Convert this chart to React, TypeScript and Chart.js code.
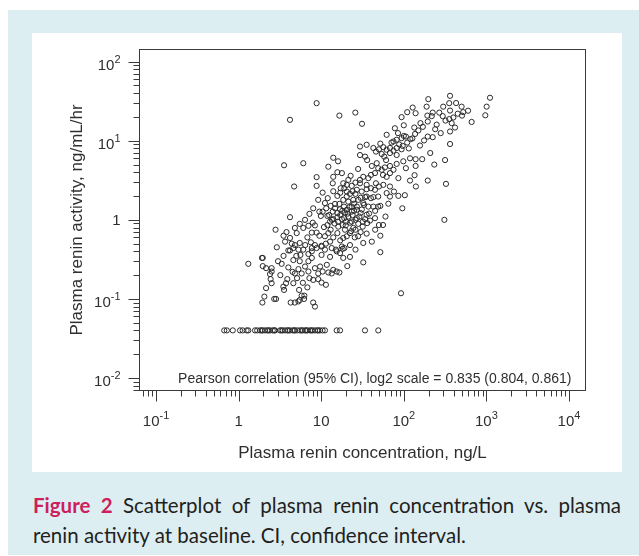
import React, { useEffect, useRef } from "react";
import { Chart, registerables } from "chart.js";
Chart.register(...registerables);

// ---- axis ranges (log scales) ----
const X_MIN = 0.0631;
const X_MAX = 15849;
const Y_MIN = 0.00695;
const Y_MAX = 142.6;

const xMajorTicks = [0.1, 1, 10, 100, 1000, 10000];
const xTickBase = ["10", "1", "10", "10", "10", "10"];
const xTickExp = ["-1", "", "", "2", "3", "4"];
const yMajorTicks = [0.01, 0.1, 1, 10, 100];
const yTickBase = ["10", "10", "1", "10", "10"];
const yTickExp = ["-2", "-1", "", "1", "2"];

const xTitle = "Plasma renin concentration, ng/L";
const yTitle = "Plasma renin activity, ng/mL/hr";
const annotation = "Pearson correlation (95% CI), log2 scale = 0.835 (0.804, 0.861)";

// ---- data: [concentration ng/L, activity ng/mL/hr] ----
const highGroup: [number, number][] = [
  [8.8, 29.9], [4.19, 18.4], [16.6, 20.8], [25.9, 22.7], [31.2, 16.4],
  [363, 37], [198, 33.6], [1106, 35], [1007, 27], [970, 21], [663, 17.3], [501, 27], [524, 23],
  [507, 20.8], [417, 14.7], [355, 29.9], [363, 24.1], [355, 18.8], [380, 16.7], [398, 19.7],
  [363, 13.1], [363, 9.1], [300, 27], [269, 22.7], [296, 20.5], [224, 22.7], [218, 20.5],
  [195, 17.5], [193, 20.8], [189, 27], [128, 26.3], [110, 23], [139, 22.3], [94, 19.9],
  [159, 16.7], [134, 14.7], [100, 15.7], [78, 14.4],
  [224, 11.1], [195, 11.3], [176, 10.1], [157, 8.7], [209, 7.0], [316, 5.7], [234, 5.0],
  [167, 5.85], [139, 5.85], [119, 6.0], [139, 4.8], [106, 4.5], [324, 2.85], [195, 3.14],
  [140, 2.64], [119, 3.14], [135, 3.67], [86, 3.37], [62, 2.18], [86, 2.01], [103, 2.05],
  [96, 1.4], [310, 1.0],
  [150, 13.5], [170, 15], [250, 16], [280, 12.5], [240, 14], [450, 22], [320, 18], [430, 30],
  [600, 24],
];

const midGroup: [number, number][] = [
  [62, 11.9], [100, 11.5], [94, 10.8], [106, 11.3], [127, 10.7], [137, 12.2], [110, 9.5],
  [97, 8.6], [75, 7.5], [62, 7.7], [46, 7.3], [54, 6.8], [58, 6.3], [68, 7.0], [82, 6.6],
  [94, 7.8], [29.5, 6.6], [34, 6.3], [36, 5.7], [41, 4.8], [49, 4.5], [61, 5.7], [59, 4.6],
  [68, 3.9], [75, 4.3], [56, 3.7], [62, 3.5], [40, 3.7], [28, 4.4], [22.7, 3.6], [26, 2.96],
  [29.5, 3.2], [46, 2.9], [35.5, 2.44], [23.4, 2.69], [17.2, 2.51], [14, 6.1], [16, 5.5],
  [12.2, 4.7], [15.7, 4.0], [17.8, 3.9], [8.8, 3.47], [8.8, 2.69], [13.8, 2.9],
  [29.5, 8.45], [35.5, 8.9], [42.8, 8.1], [50, 7.8], [56.5, 8.3], [68, 8.1], [82, 8.1],
  [71, 9.5], [82, 10.3], [98.6, 5.5], [82, 5.1], [68, 4.8], [47, 5.2], [54, 4.3], [44.8, 3.9],
  [37.2, 3.37], [32.3, 3.5], [29.5, 2.9], [35.5, 2.77], [40, 2.51], [44.8, 2.4], [50, 2.64],
  [56.5, 2.77], [68, 2.64], [76, 2.28], [68, 1.97], [49, 1.97], [42.8, 1.94], [35.5, 1.97],
  [30.9, 2.28], [27, 2.4], [20.4, 2.28], [18.5, 2.9], [20.4, 2.77], [21.3, 3.2],
  [3.55, 4.9], [6.07, 5.2], [4.7, 2.64], [14, 3.5], [10.4, 2.21],
  [88, 9], [115, 8], [120, 10.5], [75, 9.8], [52, 9.2], [85, 12.5],
];

const coreGroup: [number, number][] = [
  [12, 1.88], [15.7, 2.01], [20.4, 1.97], [22.3, 2.13], [26, 2.13], [34, 1.94], [40, 1.88],
  [49, 1.47], [52, 1.5], [13, 1.5], [14.7, 1.4], [16.6, 1.59], [18.9, 1.47], [20.4, 1.34],
  [23.4, 1.27], [27, 1.34], [30, 1.22], [35.5, 1.16], [32, 0.95], [36, 0.91], [50, 0.86],
  [56, 0.86], [52, 0.63], [35.5, 0.67], [26, 0.75], [20.4, 0.62], [25.5, 0.6], [18.5, 0.59],
  [15.7, 0.68], [13, 0.75], [10.8, 0.81], [9.9, 1.12], [10.4, 1.27], [11.9, 1.12],
  [15.7, 1.08], [17.8, 1.02], [14, 1.02], [12.8, 0.95], [11.9, 0.86],
  [14.7, 1.59], [13.8, 1.27], [15.7, 1.22], [16.9, 1.36], [19.4, 1.24], [21.3, 1.1],
  [22.3, 0.92], [18.2, 0.86], [16.1, 0.82], [19.4, 0.75], [23.4, 0.95], [27, 1.05],
  [28.1, 0.89], [22.3, 0.68], [24.5, 0.79], [31.8, 0.82], [34, 1.02], [39, 0.98], [44.8, 1.05],
  [18.5, 1.79], [21.3, 1.7], [24.5, 1.79], [28.1, 1.79], [32.3, 1.63], [37.2, 1.47],
  [42.8, 1.47], [27, 1.47], [23.4, 1.47],
  [9.2, 1.79], [11.1, 1.63], [9.5, 1.27], [8.0, 1.4], [7.2, 1.19], [6.37, 1.0], [4.19, 1.08],
  [11.5, 1.4], [12.5, 1.15], [13.5, 1.0], [14.5, 0.9], [16, 0.95], [17, 1.15], [18, 1.3],
  [19, 1.05], [20, 0.95], [21, 1.2], [22, 1.45], [24, 1.15], [25, 1.3], [26, 1.0], [29, 1.1],
  [31, 1.35], [33, 1.55], [12.2, 0.68], [14, 0.6], [17, 0.55], [19.8, 0.85], [23, 0.72],
  [28, 0.62], [30, 0.7], [38, 1.2], [45, 1.3], [45, 0.75], [60, 1.1], [65, 1.6], [14, 2.3],
  [17, 2.2], [19, 2.5], [24, 2.3], [25, 1.6], [30, 1.9],
];

const lowGroup: [number, number][] = [
  [7.9, 0.92], [8.4, 0.85], [7.0, 0.84], [7.7, 0.69], [8.8, 0.69], [9.5, 0.63], [11.1, 0.62],
  [12.8, 0.53], [11.4, 0.5], [10.1, 0.47], [8.4, 0.48], [7.5, 0.52], [6.4, 0.48], [5.5, 0.51],
  [5.3, 0.42], [4.4, 0.5], [4.0, 0.41], [3.5, 0.63], [2.8, 0.75], [1.92, 0.33], [7.0, 0.37],
  [11.1, 0.42], [15.1, 0.42], [19.1, 0.44], [26, 0.42], [52, 0.39],
  [5.5, 0.89], [6.07, 0.79], [4.8, 0.79], [5.05, 0.68], [4.19, 0.59], [3.65, 0.53],
  [4.6, 0.44], [6.07, 0.42], [7.7, 0.4], [8.8, 0.44], [10.1, 0.36], [12.8, 0.34],
  [16.9, 0.38], [22.3, 0.34], [17.8, 0.46], [22.3, 0.48], [32.3, 0.51], [41, 0.53],
  [1.31, 0.278], [1.96, 0.33], [1.96, 0.26], [2.15, 0.245], [2.51, 0.245], [2.51, 0.222],
  [2.4, 0.206], [2.44, 0.178], [2.51, 0.158], [2.15, 0.137], [2.05, 0.107], [1.94, 0.09],
  [2.7, 0.1], [2.84, 0.1], [3.32, 0.278], [3.89, 0.178], [3.75, 0.158], [3.55, 0.13],
  [3.48, 0.143], [4.27, 0.09], [4.8, 0.09], [5.3, 0.093], [5.5, 0.097], [6.2, 0.1],
  [5.8, 0.11], [6.25, 0.11], [8.0, 0.09], [8.4, 0.08], [5.4, 0.13], [4.6, 0.158],
  [5.1, 0.183], [4.8, 0.21], [5.8, 0.21], [5.3, 0.238], [6.37, 0.257], [7.0, 0.222],
  [7.2, 0.183], [8.0, 0.174], [9.2, 0.178], [10.1, 0.161], [11.4, 0.151], [9.2, 0.21],
  [10.4, 0.222], [8.4, 0.245], [9.7, 0.257], [11.7, 0.27], [12.2, 0.216], [13.4, 0.21],
  [14, 0.233], [15.4, 0.222], [16.6, 0.216], [18.5, 0.33], [20.7, 0.26], [32.3, 0.29],
  [92.5, 0.118], [4.6, 0.31], [5.5, 0.3], [5.6, 0.36], [7.0, 0.3], [7.7, 0.33], [4.19, 0.41],
  [4.8, 0.48], [7.7, 0.44], [10.1, 0.46], [13.4, 0.44], [15.4, 0.4], [18.2, 0.43],
  [3, 0.3], [3.5, 0.35], [4, 0.25], [4.5, 0.22], [6, 0.16], [6.8, 0.14], [3.2, 0.2],
  [2.9, 0.45], [3.8, 0.7], [6.8, 0.6], [5, 0.35],
];

// values below the assay limit, all recorded at the same activity
const LOD_ACTIVITY = 0.04;
const belowLimitConc = [
  0.67, 0.72, 0.85, 1.04, 1.12, 1.25, 1.31, 1.58, 1.68, 1.82, 1.96, 2.09, 2.22, 2.4, 2.59,
  2.76, 3.17, 3.42, 3.65, 3.89, 4.19, 4.52, 4.82, 5.14, 5.53, 5.97, 6.37, 6.79, 7.31, 7.89,
  8.41, 8.97, 9.67, 10.4, 11.1, 15.4, 16.9, 33.9, 49.1, 1.9, 2.3, 2.7, 3.3, 4.0, 4.7, 5.8,
  6.6, 7.6, 9.2,
];

const allPoints = [...highGroup, ...midGroup, ...coreGroup, ...lowGroup].map(([x, y]) => ({ x, y }));
const limitPoints = belowLimitConc.map((x) => ({ x, y: LOD_ACTIVITY }));

const FONT = "'Liberation Sans', Arial, Helvetica, sans-serif";
const INK = "#2f2f2f";

function drawPow(ctx: CanvasRenderingContext2D, base: string, exp: string, x: number, y: number, align: "center" | "right") {
  ctx.font = `15px ${FONT}`;
  const wb = ctx.measureText(base).width;
  ctx.font = `11px ${FONT}`;
  const we = exp ? ctx.measureText(exp).width : 0;
  const total = wb + we;
  const sx = align === "center" ? x - total / 2 : x - total;
  ctx.textAlign = "left";
  ctx.textBaseline = "alphabetic";
  ctx.font = `15px ${FONT}`;
  ctx.fillText(base, sx, y);
  if (exp) {
    ctx.font = `11px ${FONT}`;
    ctx.fillText(exp, sx + wb, y - 7);
  }
}

const axesPlugin = {
  id: "rAxes",
  afterDatasetsDraw(chart: any) {
    const ctx: CanvasRenderingContext2D = chart.ctx;
    const { left, right, top, bottom } = chart.chartArea;
    const xs = chart.scales.x;
    const ys = chart.scales.y;
    ctx.save();
    ctx.strokeStyle = "#3a3a3a";
    ctx.fillStyle = INK;
    ctx.lineWidth = 1;
    ctx.strokeRect(left, top, right - left, bottom - top);

    // x ticks
    ctx.beginPath();
    for (let e = -2; e <= 4; e++) {
      for (let k = 1; k <= 9; k++) {
        const v = k * Math.pow(10, e);
        if (v < X_MIN || v > X_MAX) continue;
        const px = Math.round(xs.getPixelForValue(v)) + 0.5;
        const len = k === 1 ? 11 : 6;
        ctx.moveTo(px, bottom);
        ctx.lineTo(px, bottom + len);
      }
    }
    // y ticks
    for (let e = -3; e <= 2; e++) {
      for (let k = 1; k <= 9; k++) {
        const v = k * Math.pow(10, e);
        if (v < Y_MIN || v > Y_MAX) continue;
        const py = Math.round(ys.getPixelForValue(v)) + 0.5;
        const len = k === 1 ? 11 : 6;
        ctx.moveTo(left, py);
        ctx.lineTo(left - len, py);
      }
    }
    ctx.stroke();

    // tick labels
    xMajorTicks.forEach((v, i) => {
      const px = xs.getPixelForValue(v);
      drawPow(ctx, xTickBase[i], xTickExp[i], px, bottom + 35, "center");
    });
    yMajorTicks.forEach((v, i) => {
      const py = ys.getPixelForValue(v);
      const off = yTickExp[i] ? 8 : 5.5;
      drawPow(ctx, yTickBase[i], yTickExp[i], left - 19, py + off, "right");
    });

    // axis titles
    ctx.font = `17px ${FONT}`;
    ctx.textAlign = "center";
    ctx.textBaseline = "alphabetic";
    ctx.fillText(xTitle, (left + right) / 2, bottom + 67);
    ctx.save();
    ctx.translate(left - 58, (top + bottom) / 2);
    ctx.rotate(-Math.PI / 2);
    ctx.fillText(yTitle, 0, 0);
    ctx.restore();

    // annotation
    ctx.font = `14px ${FONT}`;
    ctx.textAlign = "right";
    ctx.fillText(annotation, right - 14, bottom - 8);
    ctx.restore();
  },
};

export default function App() {
  const ref = useRef<HTMLCanvasElement | null>(null);
  useEffect(() => {
    if (!ref.current) return;
    const pointStyle = {
      pointStyle: "circle" as const,
      pointRadius: 2.6,
      pointBorderWidth: 1,
      pointBorderColor: "#2a2a2a",
      pointBackgroundColor: "rgba(0,0,0,0)",
      borderColor: "#2a2a2a",
      backgroundColor: "rgba(0,0,0,0)",
    };
    const chart = new Chart(ref.current, {
      type: "scatter",
      data: {
        datasets: [
          { label: "Patients", data: allPoints, ...pointStyle },
          { label: "Below limit", data: limitPoints, ...pointStyle },
        ],
      },
      options: {
        responsive: false,
        animation: false,
        devicePixelRatio: 1,
        layout: { padding: { left: 107.5, right: 36.5, top: 16.5, bottom: 81.5 } },
        plugins: { legend: { display: false }, tooltip: { enabled: false } },
        scales: {
          x: { type: "logarithmic", min: X_MIN, max: X_MAX, display: false, bounds: "data" },
          y: { type: "logarithmic", min: Y_MIN, max: Y_MAX, display: false, bounds: "data" },
        },
      },
      plugins: [axesPlugin],
    });
    return () => chart.destroy();
  }, []);

  return (
    <div style={{ position: "absolute", left: 0, top: 0, width: 639, height: 556, background: "#fff", overflow: "hidden" }}>
      <div style={{ position: "absolute", left: 8, top: 10, width: 631, height: 545, background: "#ddeef3" }} />
      <div style={{ position: "absolute", left: 32, top: 33, width: 590, height: 439, background: "#fff" }}>
        <canvas ref={ref} width={590} height={439} style={{ display: "block", width: 590, height: 439 }} />
      </div>
      <div
        style={{
          position: "absolute",
          left: 33,
          top: 490,
          width: 588,
          fontFamily: "Lato, 'Open Sans', sans-serif",
          fontSize: 20.5,
          lineHeight: "30px",
          textAlign: "justify",
          color: "#231f20",
        }}
      >
        <span style={{ color: "#cc1f5b", fontWeight: 700 }}>Figure 2</span> Scatterplot of plasma renin
        concentration vs. plasma renin activity at baseline. CI, confidence interval.
      </div>
    </div>
  );
}
